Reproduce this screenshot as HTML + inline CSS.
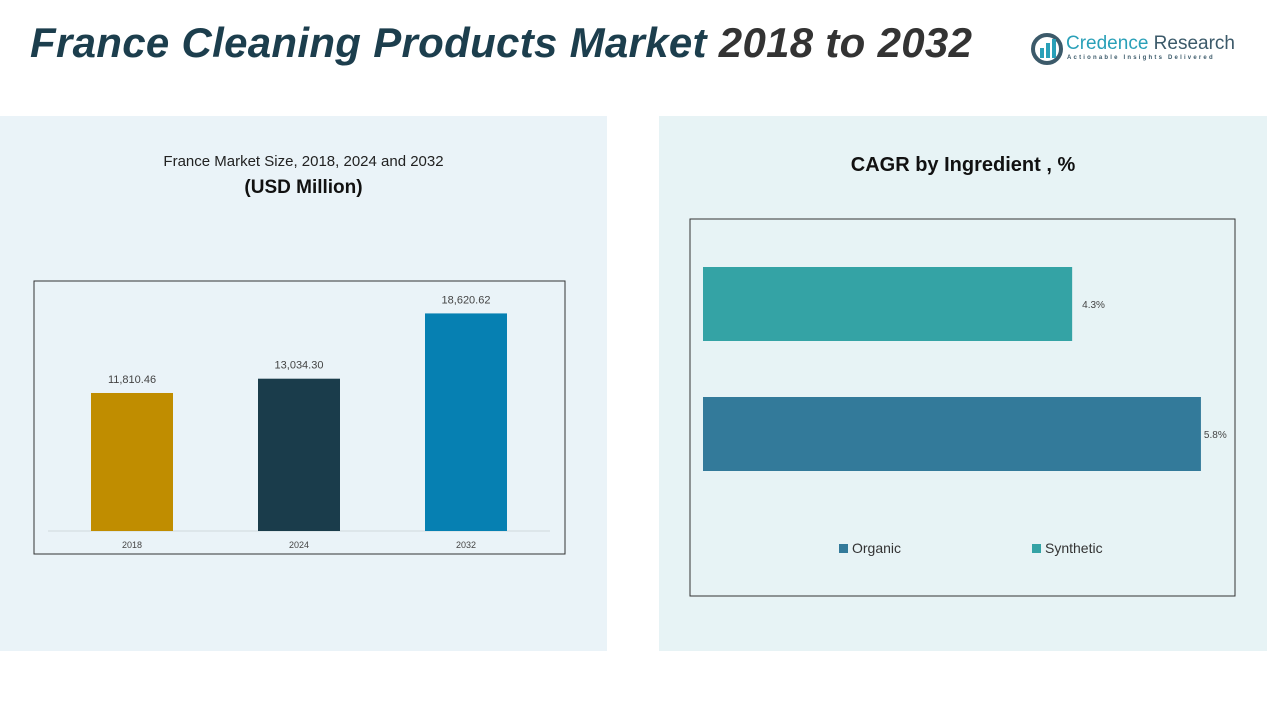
<!DOCTYPE html>
<html><head><meta charset="utf-8"><style>
body{margin:0;width:1267px;height:713px;background:#fff;position:relative;overflow:hidden;font-family:"Liberation Sans",sans-serif}
.abs{position:absolute}
</style></head><body>
<div class="abs" style="left:0;top:116px;width:607px;height:535px;background:#eaf3f8"></div>
<div class="abs" style="left:659px;top:116px;width:608px;height:535px;background:#e7f3f5"></div>
<div class="abs" style="left:30px;top:19px;font-size:42px;font-weight:bold;font-style:italic;color:#1c3e4d;letter-spacing:0.3px">France Cleaning Products Market <span style="color:#333">2018 to 2032</span></div>
<div class="abs" style="left:1030px;top:30px;width:210px;height:40px">
<svg width="34" height="34" style="position:absolute;left:0;top:2px"><circle cx="17" cy="17" r="14" fill="none" stroke="#3c5a6a" stroke-width="4"/><rect x="10" y="16" width="4" height="10" fill="#2aa0b8"/><rect x="16" y="11" width="4" height="15" fill="#2aa0b8"/><rect x="22" y="7" width="4" height="19" fill="#2aa0b8"/></svg>
<div class="abs" style="left:36px;top:3px;font-size:19px;color:#2aa0b8;white-space:nowrap">Credence <span style="color:#3c5a6a">Research</span></div>
<div class="abs" style="left:37px;top:25px;font-size:6px;color:#3c5a6a;letter-spacing:2.2px;white-space:nowrap;font-weight:bold">Actionable Insights Delivered</div>
</div>
<div class="abs" style="left:0;width:607px;top:153px;text-align:center;font-size:15px;color:#222">France Market Size, 2018, 2024 and 2032</div>
<div class="abs" style="left:0;width:607px;top:177px;text-align:center;font-size:19px;font-weight:bold;color:#111">(USD Million)</div>
<div class="abs" style="left:659px;width:608px;top:154px;text-align:center;font-size:20px;font-weight:bold;color:#111">CAGR by Ingredient , %</div>
<svg class="abs" style="left:0;top:0" width="1267" height="713" id="charts">
<rect x="34" y="281" width="531" height="273" fill="none" stroke="#333" stroke-width="1"/>
<line x1="48" y1="531" x2="550" y2="531" stroke="#d0d8dc"/>
<rect x="690" y="219" width="545" height="377" fill="none" stroke="#333"/>
<g id="bars"></g><g id="hbars"></g>
<rect x="839" y="544" width="9" height="9" fill="#337a9a"/>
<text x="852" y="553" font-size="14" fill="#333">Organic</text>
<rect x="1032" y="544" width="9" height="9" fill="#34a3a5"/>
<text x="1045" y="553" font-size="14" fill="#333">Synthetic</text>
</svg>
<script>
const years=["2018","2024","2032"];
const sizes=[11810.46,13034.30,18620.62];
const labels=["11,810.46","13,034.30","18,620.62"];
const barColors=["#c08d00","#1a3c4b","#0680b2"];
const ingredients=["Synthetic","Organic"];
const cagr=[4.3,5.8];
const cagrLabels=["4.3%","5.8%"];
const hColors=["#34a3a5","#337a9a"];
const NS="http://www.w3.org/2000/svg";
const y=v=>531-v*0.011685;
const xc=i=>132+i*167;
const g=document.getElementById('bars');
years.forEach((yr,i)=>{
 const r=document.createElementNS(NS,'rect');
 r.setAttribute('x',xc(i)-41);r.setAttribute('width',82);
 r.setAttribute('y',y(sizes[i]));r.setAttribute('height',531-y(sizes[i]));
 r.setAttribute('fill',barColors[i]);
 
 
 g.appendChild(r);
 const t=document.createElementNS(NS,'text');
 t.setAttribute('x',xc(i));t.setAttribute('y',y(sizes[i])-10);t.setAttribute('text-anchor','middle');
 t.setAttribute('font-size','11');t.setAttribute('fill','#444');t.textContent=labels[i];
 
 
 g.appendChild(t);
 const a=document.createElementNS(NS,'text');
 a.setAttribute('x',xc(i));a.setAttribute('y',548);a.setAttribute('text-anchor','middle');
 a.setAttribute('font-size','9');a.setAttribute('fill','#444');a.textContent=yr;
 
 
 g.appendChild(a);
});
const hx=v=>703+v*85.85;
const h=document.getElementById('hbars');
ingredients.forEach((ing,i)=>{
 const top=267+i*130;
 const r=document.createElementNS(NS,'rect');
 r.setAttribute('x',703);r.setAttribute('y',top);r.setAttribute('height',74);
 r.setAttribute('width',hx(cagr[i])-703);r.setAttribute('fill',hColors[i]);
 
 
 h.appendChild(r);
 const t=document.createElementNS(NS,'text');
 t.setAttribute('x',hx(cagr[i])+10);t.setAttribute('y',top+41);
 t.setAttribute('font-size','10');t.setAttribute('fill','#444');t.textContent=cagrLabels[i];
 if(i==1)t.setAttribute('x',hx(cagr[i])+3);
 
 
 h.appendChild(t);
});
</script>
</body></html>
